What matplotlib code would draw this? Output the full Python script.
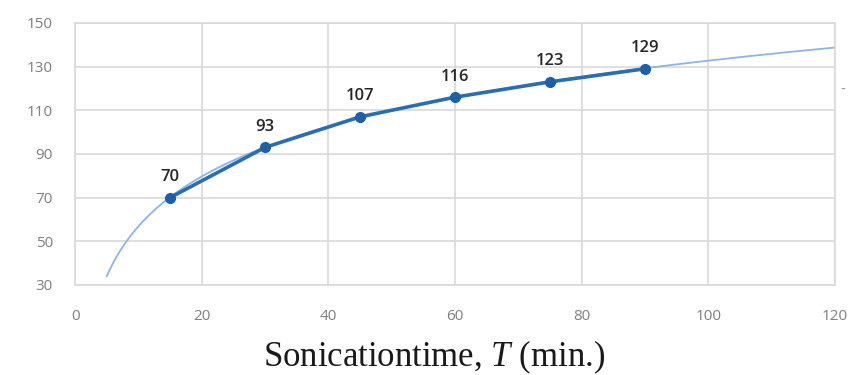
import matplotlib.pyplot as plt
import numpy as np

# Sonication time (min) and measured values
time_min = np.array([15, 30, 45, 60, 75, 90])
values = np.array([70, 93, 107, 116, 123, 129])
x_ticks = [0, 20, 40, 60, 80, 100, 120]
y_ticks = [30, 50, 70, 90, 110, 130, 150]

# Logarithmic trend line fitted to the data (like the spreadsheet trendline)
a, b = np.polyfit(np.log(time_min), values, 1)
x_trend = np.linspace(5, 120, 300)
y_trend = a * np.log(x_trend) + b

plt.rcParams["mathtext.fontset"] = "custom"
plt.rcParams["mathtext.rm"] = "Liberation Serif"
plt.rcParams["mathtext.it"] = "Liberation Serif:italic"

fig = plt.figure(figsize=(8.53, 3.75), dpi=100)
ax = fig.add_axes([0.088, 0.24, 0.891, 0.699])

ax.plot(x_trend, y_trend, color="#8db4e2", linewidth=1.3, zorder=2)
ax.plot(time_min, values, color="#2a6db5", linewidth=2.6, marker="o",
        markersize=7, markerfacecolor="#1f5fa5", markeredgecolor="#1f5fa5", zorder=3)

for x, y in zip(time_min, values):
    ax.annotate(str(y), (x, y), xytext=(0, 9), textcoords="offset points",
                ha="center", va="bottom", fontsize=12, color="#262626",
                family="Open Sans", fontweight="semibold")

ax.set_xlim(0, 120)
ax.set_ylim(30, 150)
ax.set_xticks(x_ticks)
ax.set_yticks(y_ticks)
ax.tick_params(length=0, labelsize=11, colors="#7f7f7f")
ax.tick_params(axis="x", pad=17)
ax.tick_params(axis="y", pad=16)
for lbl in ax.get_xticklabels() + ax.get_yticklabels():
    lbl.set_family("Open Sans")
ax.grid(True, color="#d9d9d9", linewidth=1.2)
ax.set_axisbelow(True)
for sp in ax.spines.values():
    sp.set_color("#d9d9d9")
    sp.set_linewidth(1.2)

# axis title, placed like in the source image (slightly left of centre)
fig.text(0.509, 0.024, r"Sonicationtime, $\mathit{T}$ (min.)", fontsize=25,
         family="Liberation Serif", color="#1a1a1a", ha="center", va="baseline")

# remnant of a cropped legend marker at the right edge
fig.text(0.985, 0.76, "-", fontsize=10, color="#999999", ha="left", va="center")

fig.savefig("out.png", dpi=100)
